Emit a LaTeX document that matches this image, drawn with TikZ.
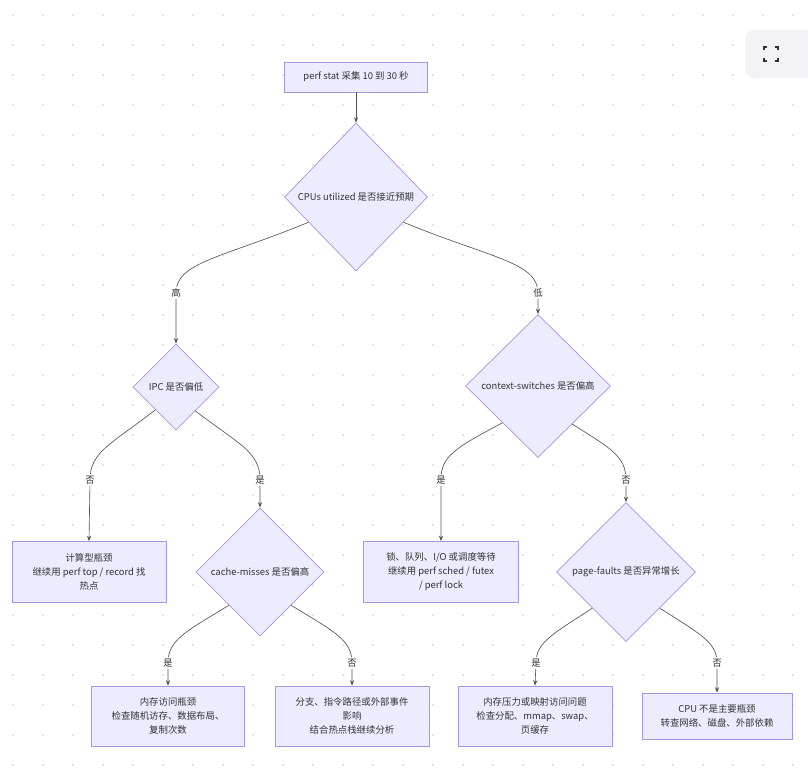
\documentclass[tikz,border=0pt]{standalone}
\usepackage{fontspec}
\setmainfont{Noto Sans CJK SC}
\usetikzlibrary{shapes.geometric,arrows.meta}
\definecolor{nodefill}{HTML}{ECECFF}
\definecolor{nodeline}{HTML}{A894E0}
\definecolor{ink}{HTML}{333333}
\definecolor{edgeink}{HTML}{555555}
\definecolor{griddot}{HTML}{DADADA}
\definecolor{btnfill}{HTML}{F3F3F6}
\tikzset{
  boxnode/.style={rectangle,fill=nodefill,draw=nodeline,line width=0.7pt,align=center,text=ink,inner sep=0pt,font=\fontsize{9.4}{14}\selectfont},
  decision/.style={diamond,aspect=1,fill=nodefill,draw=nodeline,line width=0.7pt,text=ink,inner sep=0pt,font=\fontsize{9.4}{14}\selectfont},
  edge/.style={draw=edgeink,line width=0.65pt,-{Stealth[length=5.5pt,width=4.2pt]}},
  edgelabel/.style={fill=white,fill opacity=0.85,text opacity=1,text=ink,inner sep=1.5pt,font=\fontsize{9.4}{10}\selectfont}
}
\begin{document}
\begin{tikzpicture}[x=1pt,y=-1pt]
\useasboundingbox (0,0) rectangle (808,769);
\fill[white] (0,0) rectangle (808,769);
% dotted grid
\foreach \i in {0,...,27}{
  \foreach \j in {0,...,25}{
    \fill[griddot] (13+30*\i,15+30*\j) circle (1.1);
  }
}
% fullscreen button
\fill[btnfill,rounded corners=9pt] (745,30) rectangle (830,78);
\draw[ink,line width=1.6pt] (764,50) -- (764,47) -- (767,47)
  (775,47) -- (778,47) -- (778,50)
  (778,58) -- (778,61) -- (775,61)
  (767,61) -- (764,61) -- (764,58);

% nodes
\node[boxnode,minimum width=143,minimum height=30] (top) at (356,77) {perf stat 采集 10 到 30 秒};
\node[decision,minimum width=143,minimum height=148] (d1) at (356,197) {CPUs utilized 是否接近预期};
\node[decision,minimum width=86,minimum height=86] (ipc) at (176,387) {IPC 是否偏低};
\node[decision,minimum width=145,minimum height=143] (cs) at (538,386) {context-switches 是否偏高};
\node[boxnode,minimum width=154,minimum height=61] (b1) at (89,572) {计算型瓶颈\\继续用 perf top / record 找\\热点};
\node[decision,minimum width=128,minimum height=128] (cache) at (260,572) {cache-misses 是否偏高};
\node[boxnode,minimum width=155,minimum height=61] (b2) at (441,572) {锁、队列、I/O 或调度等待\\继续用 perf sched / futex\\/ perf lock};
\node[decision,minimum width=139,minimum height=139] (pf) at (626,572) {page-faults 是否异常增长};
\node[boxnode,minimum width=153,minimum height=60] (b3) at (168,716) {内存访问瓶颈\\检查随机访存、数据布局、\\复制次数};
\node[boxnode,minimum width=154,minimum height=60] (b4) at (352,716) {分支、指令路径或外部事件\\影响\\结合热点栈继续分析};
\node[boxnode,minimum width=154,minimum height=60] (b5) at (535,716) {内存压力或映射访问问题\\检查分配、mmap、swap、\\页缓存};
\node[boxnode,minimum width=150,minimum height=46] (b6) at (717,716) {CPU 不是主要瓶颈\\转查网络、磁盘、外部依赖};

% label positions
\coordinate (pgao) at (176,293);
\coordinate (pdi) at (538,293);
\coordinate (pf1) at (90,480);
\coordinate (ps1) at (260,480);
\coordinate (ps2) at (441,480);
\coordinate (pf2) at (626,480);
\coordinate (ps3) at (168,663);
\coordinate (pf3) at (352,663);
\coordinate (ps4) at (536,663);
\coordinate (pf4) at (717,663);

% edges
\draw[edge] (top.south) -- (d1.north);
\draw[edge] (d1.208) .. controls (222,258) and (176,262) .. (pgao) -- (ipc.north);
\draw[edge] (d1.332) .. controls (490,258) and (538,262) .. (pdi) -- (cs.north);
\draw[edge] (ipc.228) .. controls (110,445) and (90,452) .. (pf1) -- (b1.north);
\draw[edge] (ipc.309) .. controls (240,445) and (260,452) .. (ps1) -- (cache.north);
\draw[edge] (cs.226) .. controls (455,448) and (441,456) .. (ps2) -- (b2.north);
\draw[edge] (cs.312) .. controls (610,448) and (626,456) .. (pf2) -- (pf.north);
\draw[edge] (cache.227) .. controls (185,632) and (168,640) .. (ps3) -- (b3.north);
\draw[edge] (cache.313) .. controls (335,632) and (352,640) .. (pf3) -- (b4.north);
\draw[edge] (pf.227) .. controls (553,634) and (536,642) .. (ps4) -- (b5.north);
\draw[edge] (pf.313) .. controls (700,634) and (717,642) .. (pf4) -- (b6.north);

% edge labels
\node[edgelabel] (lgao) at (pgao) {高};
\node[edgelabel] (ldi) at (pdi) {低};
\node[edgelabel] (lf1) at (pf1) {否};
\node[edgelabel] (ls1) at (ps1) {是};
\node[edgelabel] (ls2) at (ps2) {是};
\node[edgelabel] (lf2) at (pf2) {否};
\node[edgelabel] (ls3) at (ps3) {是};
\node[edgelabel] (lf3) at (pf3) {否};
\node[edgelabel] (ls4) at (ps4) {是};
\node[edgelabel] (lf4) at (pf4) {否};
\end{tikzpicture}
\end{document}
